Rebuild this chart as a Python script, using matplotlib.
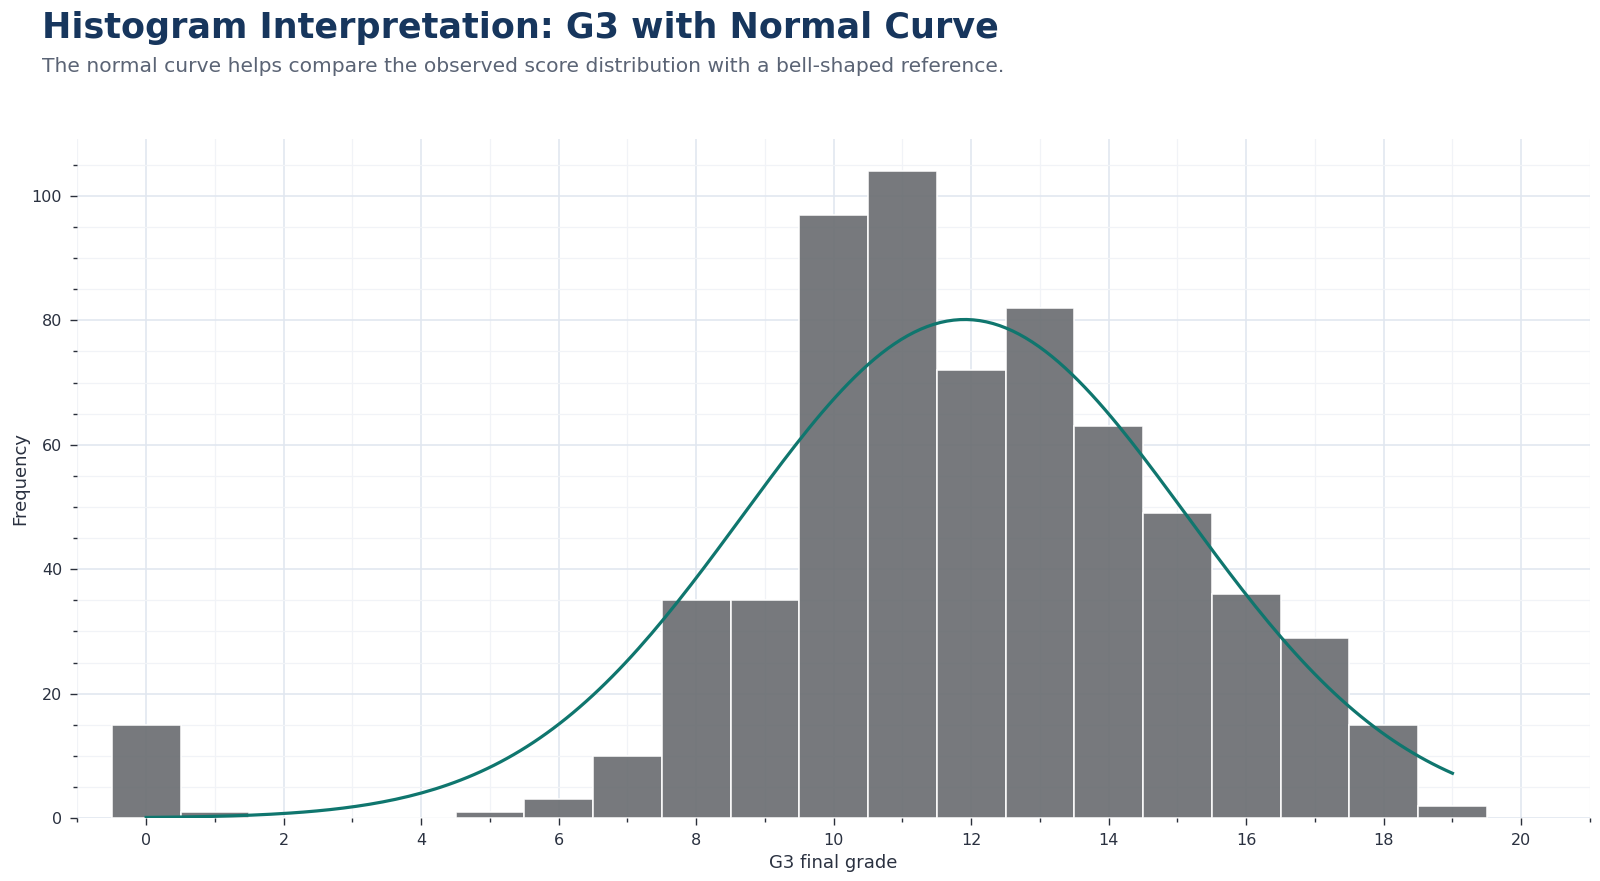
import numpy as np
import matplotlib.pyplot as plt
from matplotlib.ticker import MultipleLocator

# G3 grades and how many students got each one
grades = np.arange(0, 20)
counts = [15, 1, 0, 0, 0, 1, 3, 10, 35, 35, 97, 104, 72, 82, 63, 49, 36, 29, 15, 2]

title = "Histogram Interpretation: G3 with Normal Curve"
subtitle = "The normal curve helps compare the observed score distribution with a bell-shaped reference."

# normal curve fitted to the observed grades
values = np.repeat(grades, counts)
mu = values.mean()
sigma = values.std(ddof=1)
xs = np.linspace(values.min(), values.max(), 200)
ys = len(values) * 1.0 / (sigma * np.sqrt(2 * np.pi)) * np.exp(-0.5 * ((xs - mu) / sigma) ** 2)

fig = plt.figure(figsize=(16, 8.81), dpi=100)
ax = fig.add_axes([0.0484, 0.0715, 0.9453, 0.771])

ax.bar(grades, counts, width=1.0, color="#6b6e72", alpha=0.92,
       edgecolor="white", linewidth=1.2, zorder=2)
ax.plot(xs, ys, color="#0f766e", linewidth=2.3, zorder=3)

ax.set_xlim(-1, 21)
ax.set_ylim(0, 109.2)
ax.xaxis.set_major_locator(MultipleLocator(2))
ax.xaxis.set_minor_locator(MultipleLocator(1))
ax.yaxis.set_major_locator(MultipleLocator(20))
ax.yaxis.set_minor_locator(MultipleLocator(5))

ax.grid(which="major", color="#e1e7f0", linewidth=1.2, zorder=0)
ax.grid(which="minor", color="#f1f3f7", linewidth=0.9, zorder=0)
ax.set_axisbelow(True)
for s in ax.spines.values():
    s.set_visible(False)

ax.tick_params(which="major", length=5, width=1, color="#2a2f3a",
               labelsize=11.5, labelcolor="#2a3140", pad=6)
ax.tick_params(which="minor", length=3, width=1, color="#2a2f3a")

ax.set_xlabel("G3 final grade", fontsize=13, color="#2a3140", labelpad=4)
ax.set_ylabel("Frequency", fontsize=13, color="#2a3140", labelpad=2)

fig.text(0.026, 0.968, title, fontsize=25.2, fontweight="bold",
         color="#17365d", va="center", ha="left")
fig.text(0.026, 0.925, subtitle, fontsize=14.6, color="#5b6475",
         va="center", ha="left")

fig.savefig("out.png", dpi=100)
